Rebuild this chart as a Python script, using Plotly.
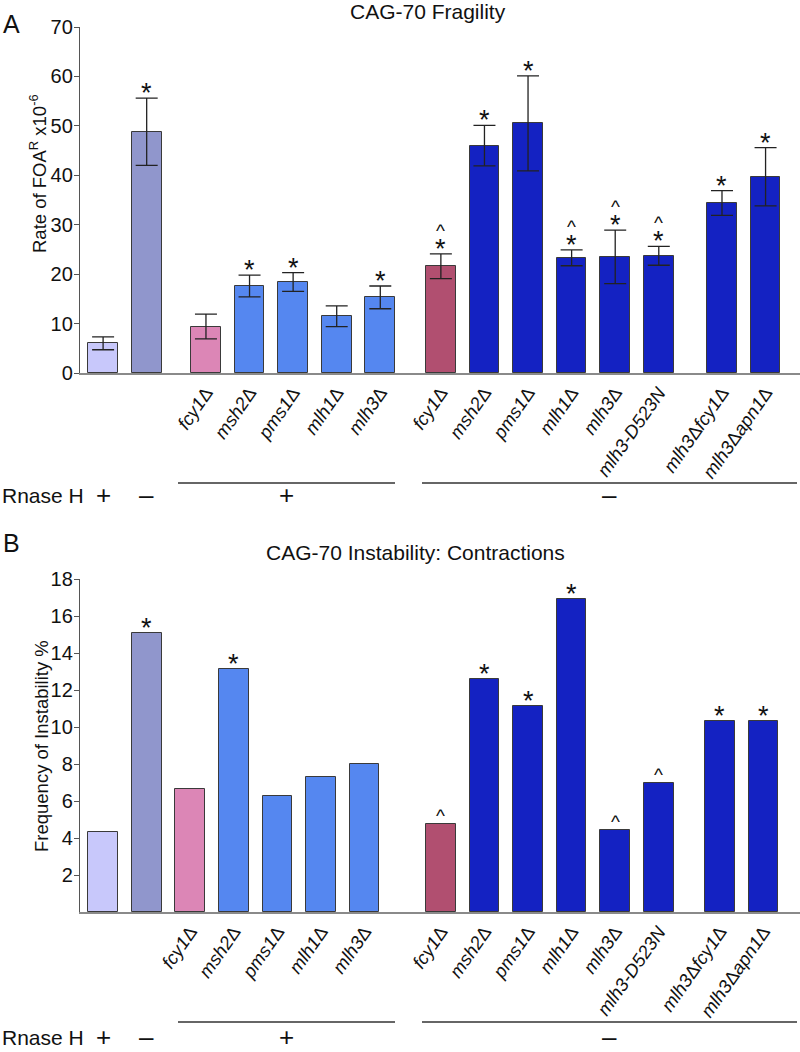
import re
import plotly.graph_objects as go

# ---------------- data ----------------
strains = ["", "", "fcy1Δ", "msh2Δ", "pms1Δ", "mlh1Δ", "mlh3Δ",
           "fcy1Δ", "msh2Δ", "pms1Δ", "mlh1Δ", "mlh3Δ", "mlh3-D523N",
           "mlh3Δfcy1Δ", "mlh3Δapn1Δ"]
rnase_h = ["+", "–", "+", "+", "+", "+", "+", "–", "–", "–", "–", "–", "–", "–", "–"]

fragility = [6.0, 48.8, 9.4, 17.6, 18.4, 11.5, 15.3, 21.6, 46.0, 50.5, 23.3, 23.5, 23.7, 34.4, 39.7]
fragility_err = [1.3, 6.8, 2.5, 2.2, 1.9, 2.1, 2.3, 2.5, 4.1, 9.6, 1.6, 5.4, 1.9, 2.5, 5.9]
fragility_star = [0, 1, 0, 1, 1, 0, 1, 1, 1, 1, 1, 1, 1, 1, 1]
fragility_caret = [0, 0, 0, 0, 0, 0, 0, 1, 0, 0, 1, 1, 1, 0, 0]

contractions = [4.3, 15.1, 6.65, 13.15, 6.25, 7.3, 8.0, 4.75, 12.6, 11.15, 16.9, 4.45, 7.0, 10.35, 10.35]
contractions_star = [0, 1, 0, 1, 0, 0, 0, 0, 1, 1, 1, 0, 0, 1, 1]
contractions_caret = [0, 0, 0, 0, 0, 0, 0, 1, 0, 0, 0, 1, 1, 0, 0]

bar_colors = ["#c8c8fb", "#9096cc", "#dc86b6", "#5587f0", "#5587f0", "#5587f0", "#5587f0",
              "#b14f70", "#1422c2", "#1422c2", "#1422c2", "#1422c2", "#1422c2", "#1422c2", "#1422c2"]

# ---------------- layout helpers ----------------
W, H = 800, 1052
FONT = "Liberation Sans, Arial, Helvetica, sans-serif"


def positions(extra):
    pos, shift = [], 0.0
    for i in range(len(strains)):
        shift += extra.get(i, 0.0)
        pos.append(i + shift)
    return pos


pos_top = positions({2: 0.36, 7: 0.39, 13: 0.45})
pos_bot = positions({7: 0.75, 13: 0.40})


def fmt_label(s):
    parts = re.split("(Δ)", s)
    return "".join(p if p == "Δ" else (f"<i>{p}</i>" if p else "") for p in parts)


labeled = [i for i, s in enumerate(strains) if s]
labels_html = [fmt_label(strains[i]) for i in labeled]


def py(p):  # pixel y -> paper y
    return 1 - p / H


def px(p):  # pixel x -> paper x
    return p / W


def note(x, y, text, size, xref="paper", yref="paper", **kw):
    d = dict(x=x, y=y, xref=xref, yref=yref, text=text, showarrow=False,
             xanchor="center", yanchor="middle",
             font=dict(family=FONT, size=size, color="#111"))
    d.update(kw)
    return d


fig = go.Figure()

fig.add_trace(go.Bar(
    x=pos_top, y=fragility, width=0.68, xaxis="x", yaxis="y",
    marker=dict(color=bar_colors, line=dict(color="#3a3a3a", width=1)),
    error_y=dict(type="data", array=fragility_err, color="#222222", thickness=1.3, width=11),
    showlegend=False, hoverinfo="skip",
))
fig.add_trace(go.Bar(
    x=pos_bot, y=contractions, width=0.68, xaxis="x2", yaxis="y2",
    marker=dict(color=bar_colors, line=dict(color="#3a3a3a", width=1)),
    showlegend=False, hoverinfo="skip",
))

annotations = []
# significance marks
for i in range(len(strains)):
    top = fragility[i] + fragility_err[i]
    if fragility_star[i]:
        annotations.append(note(pos_top[i], top, "*", 27, "x", "y", yanchor="bottom", yshift=-12))
    if fragility_caret[i]:
        annotations.append(note(pos_top[i], top, "^", 19, "x", "y", yanchor="bottom", yshift=11))
    ctop = contractions[i]
    if contractions_star[i]:
        annotations.append(note(pos_bot[i], ctop, "*", 27, "x2", "y2", yanchor="bottom", yshift=-12))
    if contractions_caret[i]:
        annotations.append(note(pos_bot[i], ctop, "^", 19, "x2", "y2", yanchor="bottom", yshift=-4))

# titles, panel letters, y titles
annotations += [
    note(px(428), py(12), "CAG-70 Fragility", 21),
    note(px(415), py(552), "CAG-70 Instability: Contractions", 21),
    note(px(11), py(24), "A", 25),
    note(px(11), py(543), "B", 25),
    note(px(38), py(174), "Rate of FOA<sup>R</sup> x10<sup>-6</sup>", 18.5, textangle=-90),
    note(px(41), py(746), "Frequency of Instability %", 18.5, textangle=-90),
]

shapes = []
# Rnase H rows
row_lines_px = [(178, 395), (422, 797)]
for line_y, text_y, pos, xr in [(483, 495, pos_top, "x"), (1022, 1037, pos_bot, "x2")]:
    annotations.append(note(0, py(text_y), "Rnase H", 21, xanchor="left"))
    for i in (0, 1):
        annotations.append(note(pos[i], py(text_y), rnase_h[i], 26, xr, "paper"))
    for (x0, x1), sign in zip(row_lines_px, [rnase_h[2], rnase_h[7]]):
        shapes.append(dict(type="line", xref="paper", yref="paper", x0=px(x0), x1=px(x1),
                           y0=py(line_y), y1=py(line_y), line=dict(color="#333", width=1.3)))
        annotations.append(note(px((x0 + x1) / 2), py(text_y), sign, 26))

xcommon = dict(domain=[80 / W, 1], range=[-0.53, 15.99], showline=True, linecolor="#8a8a8a",
               linewidth=1.5, ticks="", showgrid=False, zeroline=False, tickangle=-55,
               automargin=False,
               tickfont=dict(family=FONT, size=18.5, color="#111"), ticktext=labels_html)
ycommon = dict(showline=True, linecolor="#555", linewidth=1.3, ticks="outside", ticklen=5,
               tickcolor="#555", showgrid=False, zeroline=False, automargin=False,
               ticklabelstandoff=-3,
               tickfont=dict(family=FONT, size=20, color="#111"))

fig.update_layout(
    template="none",
    width=W, height=H, margin=dict(l=0, r=0, t=0, b=0, pad=0, autoexpand=False),
    plot_bgcolor="white", paper_bgcolor="white",
    xaxis=dict(**xcommon, anchor="y", tickvals=[pos_top[i] for i in labeled]),
    yaxis=dict(**ycommon, anchor="x", domain=[py(373), py(27)], range=[0, 70], dtick=10),
    xaxis2=dict(**xcommon, anchor="y2", tickvals=[pos_bot[i] for i in labeled]),
    yaxis2=dict(**ycommon, anchor="x2", domain=[py(912), py(579)], range=[0, 18],
                tickvals=[2, 4, 6, 8, 10, 12, 14, 16, 18]),
    annotations=annotations, shapes=shapes, bargap=0,
)

fig.write_html("out.html", config={"displayModeBar": False},
               post_script="document.body.style.margin='0px';document.body.style.overflow='hidden';")
